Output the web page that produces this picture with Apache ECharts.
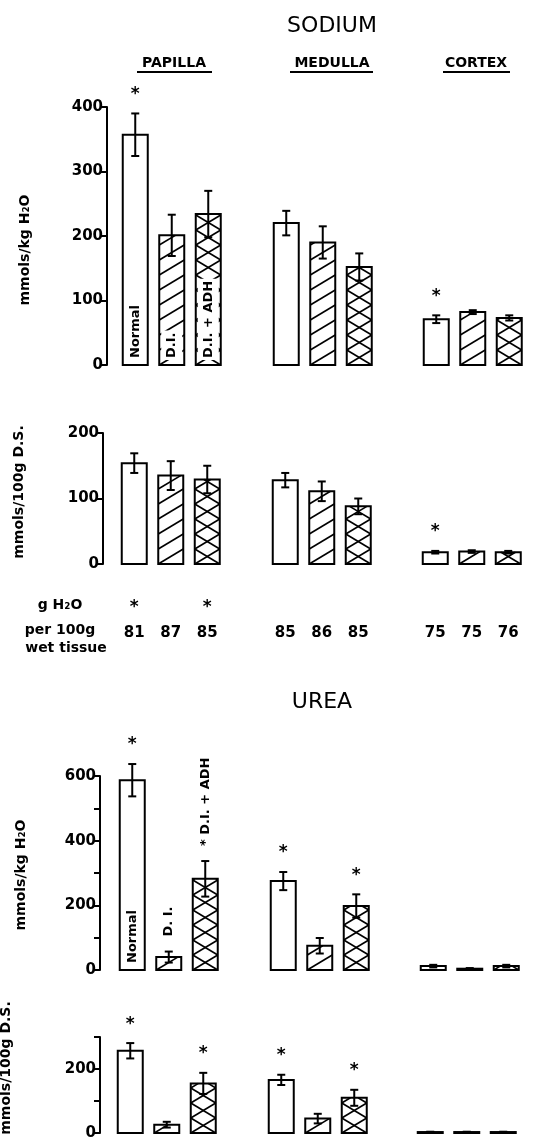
<!DOCTYPE html>
<html>
<head>
<meta charset="utf-8">
<script src="https://cdn.jsdelivr.net/npm/echarts@6/dist/echarts.min.js"></script>
<style>
  html, body { margin: 0; padding: 0; background: #fff; }
  #chart { width: 557px; height: 1141px; }
</style>
</head>
<body>
<div id="chart"></div>
<script>
// groups and tissue regions
const groups = ['Normal', 'D.I.', 'D.I. + ADH']
const regions = ['PAPILLA', 'MEDULLA', 'CORTEX']

// sodium, mmols/kg H2O  (papilla x3, medulla x3, cortex x3)
const naWater = [357, 201, 234, 220, 190, 152, 71, 82, 73]
const naWaterErr = [33, 32, 36, 19, 25, 21, 6, 3, 4]
const naWaterSig = [1, 0, 0, 0, 0, 0, 1, 0, 0]
const naWaterTicks = ['0', '100', '200', '300', '400']
const naWaterText = ['Normal', 'D.I.', 'D.I. + ADH']
const naWaterTextPos = ['inside', 'inside', 'inside']

// sodium, mmols/100g dry solids
const naDry = [154, 135, 129, 128, 111, 88, 18, 19, 18]
const naDryErr = [15, 22, 21, 11, 15, 12, 2, 2, 2]
const naDrySig = [0, 0, 0, 0, 0, 0, 1, 0, 0]
const naDryTicks = ['0', '100', '200']

// g H2O per 100g wet tissue
const waterContent = [81, 87, 85, 85, 86, 85, 75, 75, 76]
const waterSig = [1, 0, 1, 0, 0, 0, 0, 0, 0]

// urea, mmols/kg H2O
const ureaWater = [587, 40, 282, 275, 75, 198, 12, 4, 12]
const ureaWaterErr = [50, 17, 55, 28, 24, 36, 4, 2, 4]
const ureaWaterSig = [1, 0, 0, 1, 0, 1, 0, 0, 0]
const ureaWaterTicks = ['0', '', '200', '', '400', '', '600']
const ureaWaterText = ['Normal', 'D. I.', '* D.I. + ADH']
const ureaWaterTextPos = ['inside', 'above', 'above']

// urea, mmols/100g dry solids
const ureaDry = [257, 26, 155, 166, 45, 110, 3, 3, 3]
const ureaDryErr = [24, 9, 33, 16, 15, 25, 1, 1, 1]
const ureaDrySig = [1, 0, 1, 1, 0, 1, 0, 0, 0]
const ureaDryTicks = ['0', '', '200', '']

const FONT = '"DejaVu Sans", sans-serif'
const FONT_NAME = 'DejaVu Sans'
const BAR_W = 25
const SLOT_W = 109.5

// panel layout
const panels = [
  { values: naWater, err: naWaterErr, sig: naWaterSig, ticks: naWaterTicks, max: 400, interval: 100,
    top: 107, bottom: 365, lefts: [117, 268, 418], axisOffset: 10, text: naWaterText, textPos: naWaterTextPos },
  { values: naDry, err: naDryErr, sig: naDrySig, ticks: naDryTicks, max: 200, interval: 100,
    top: 433, bottom: 564, lefts: [116, 267, 417], axisOffset: 13, water: true },
  { values: ureaWater, err: ureaWaterErr, sig: ureaWaterSig, ticks: ureaWaterTicks, max: 600, interval: 100,
    top: 776, bottom: 970, lefts: [114, 265, 415], axisOffset: 14, text: ureaWaterText, textPos: ureaWaterTextPos },
  { values: ureaDry, err: ureaDryErr, sig: ureaDrySig, ticks: ureaDryTicks, max: 300, interval: 100,
    top: 1037, bottom: 1133, lefts: [112, 263, 412], axisOffset: 12 }
]

// hatch segments clipped to a bar rect; dir 1 rises to the right, -1 to the left
function hatch (x0, x1, y0, y1, k, h, dir) {
  const w = x1 - x0
  const out = []
  const nMin = -Math.ceil((w * k) / h) - 1
  const nMax = Math.ceil((y1 - y0) / h) + 1
  for (let n = nMin; n <= nMax; n++) {
    const ta = Math.max(0, (-n * h) / k)
    const tb = Math.min(w, (y1 - y0 - n * h) / k)
    if (tb - ta < 0.5) continue
    const xa = dir > 0 ? x0 + ta : x1 - ta
    const xb = dir > 0 ? x0 + tb : x1 - tb
    out.push({
      type: 'line',
      shape: { x1: xa, y1: y1 - n * h - k * ta, x2: xb, y2: y1 - n * h - k * tb },
      style: { stroke: '#000', lineWidth: 1.6 }
    })
  }
  return out
}

function makeRender (panel, region) {
  return function (params, api) {
    const i = api.value(0)
    const v = api.value(1)
    const e = api.value(2)
    const sig = api.value(3)
    const base = api.coord([i, 0])
    const top = api.coord([i, v])
    const cx = base[0]
    const x0 = cx - BAR_W / 2
    const x1 = cx + BAR_W / 2
    const y0 = top[1]
    const y1 = base[1]
    const children = [{
      type: 'rect',
      shape: { x: x0, y: y0, width: BAR_W, height: y1 - y0 },
      style: { fill: '#fff', stroke: null }
    }]
    const h = 15
    const k = h / BAR_W
    if (i === 1) {
      children.push(...hatch(x0, x1, y0, y1, k, h, 1))
    } else if (i === 2) {
      children.push(...hatch(x0, x1, y0, y1, k, h, 1))
      children.push(...hatch(x0, x1, y0, y1, k, h, -1))
    }
    // inside label (white box over the hatching)
    const label = panel.text && region === 0 ? panel.text[i] : null
    const pos = label ? panel.textPos[i] : null
    if (label && pos === 'inside') {
      children.push({
        type: 'text',
        x: cx,
        y: y1 - 5,
        rotation: Math.PI / 2,
        style: {
          text: label, font: 'bold 13px ' + FONT, fill: '#000',
          align: 'left', verticalAlign: 'middle', textAlign: 'left', textVerticalAlign: 'middle',
          backgroundColor: '#fff', padding: [4, 2, 4, 2]
        }
      })
    }
    children.push({
      type: 'rect',
      shape: { x: x0, y: y0, width: BAR_W, height: y1 - y0 },
      style: { fill: null, stroke: '#000', lineWidth: 2 }
    })
    // error bar
    const eTop = api.coord([i, v + e])[1]
    const eBot = api.coord([i, Math.max(0, v - e)])[1]
    const errStyle = { stroke: '#000', lineWidth: 2 }
    children.push(
      { type: 'line', shape: { x1: cx, y1: eTop, x2: cx, y2: eBot }, style: errStyle },
      { type: 'line', shape: { x1: cx - 4, y1: eTop, x2: cx + 4, y2: eTop }, style: errStyle },
      { type: 'line', shape: { x1: cx - 4, y1: eBot, x2: cx + 4, y2: eBot }, style: errStyle }
    )
    if (sig) {
      children.push({
        type: 'text',
        x: cx,
        y: eTop - 19,
        style: {
          text: '*', font: 'bold 17px ' + FONT, fill: '#000',
          align: 'center', verticalAlign: 'middle', textAlign: 'center', textVerticalAlign: 'middle'
        }
      })
    }
    if (label && pos === 'above') {
      children.push({
        type: 'text',
        x: cx,
        y: eTop - 15,
        rotation: Math.PI / 2,
        style: {
          text: label, font: 'bold 13px ' + FONT, fill: '#000',
          align: 'left', verticalAlign: 'middle', textAlign: 'left', textVerticalAlign: 'middle'
        }
      })
    }
    return { type: 'group', children }
  }
}

const grid = []
const xAxis = []
const yAxis = []
const series = []

panels.forEach((p, pi) => {
  regions.forEach((r, ri) => {
    const gi = grid.length
    grid.push({ left: p.lefts[ri], top: p.top, width: SLOT_W, height: p.bottom - p.top })
    xAxis.push({
      gridIndex: gi,
      type: 'category',
      data: groups,
      axisLine: { show: false },
      axisTick: { show: false },
      axisLabel: p.water ? {
        show: true,
        margin: 29,
        interval: 0,
        formatter: (val, i) => {
          const j = ri * 3 + i
          return '{s|' + (waterSig[j] ? '*' : ' ') + '}\n{n|' + waterContent[j] + '}'
        },
        rich: {
          s: { fontFamily: FONT_NAME, fontWeight: 'bold', fontSize: 17, color: '#000', lineHeight: 30 },
          n: { fontFamily: FONT_NAME, fontWeight: 'bold', fontSize: 15, color: '#000', lineHeight: 20 }
        }
      } : { show: false }
    })
    yAxis.push({
      gridIndex: gi,
      type: 'value',
      min: 0,
      max: p.max,
      interval: p.interval,
      show: ri === 0,
      offset: p.axisOffset,
      axisLine: { show: true, lineStyle: { color: '#000', width: 2 } },
      axisTick: { show: true, length: 6, lineStyle: { color: '#000', width: 2 } },
      axisLabel: {
        color: '#000',
        fontFamily: FONT_NAME,
        fontWeight: 'bold',
        fontSize: 15,
        margin: 4,
        formatter: (v) => p.ticks[Math.round(v / p.interval)] || ''
      },
      splitLine: { show: false }
    })
    const data = [0, 1, 2].map(i => {
      const j = ri * 3 + i
      return [i, p.values[j], p.err[j], p.sig[j]]
    })
    series.push({
      type: 'custom',
      xAxisIndex: gi,
      yAxisIndex: gi,
      renderItem: makeRender(p, ri),
      data,
      silent: true
    })
  })
})

const txt = (text, x, y, font, extra) => Object.assign({
  type: 'text',
  x, y,
  style: {
    text, font, fill: '#000',
    align: 'center', verticalAlign: 'middle', textAlign: 'center', textVerticalAlign: 'middle'
  }
}, extra || {})

const rot = { rotation: Math.PI / 2 }

const graphic = [
  txt('SODIUM', 332, 26, '22px ' + FONT),
  txt('PAPILLA', 174, 63, 'bold 14px ' + FONT),
  txt('MEDULLA', 332, 63, 'bold 14px ' + FONT),
  txt('CORTEX', 476, 63, 'bold 14px ' + FONT),
  { type: 'line', shape: { x1: 137, y1: 72, x2: 212, y2: 72 }, style: { stroke: '#000', lineWidth: 2 } },
  { type: 'line', shape: { x1: 290, y1: 72, x2: 373, y2: 72 }, style: { stroke: '#000', lineWidth: 2 } },
  { type: 'line', shape: { x1: 443, y1: 72, x2: 510, y2: 72 }, style: { stroke: '#000', lineWidth: 2 } },
  txt('mmols/kg H₂O', 25, 250, 'bold 14px ' + FONT, rot),
  txt('mmols/100g D.S.', 19, 492, 'bold 14px ' + FONT, rot),
  txt('g H₂O', 60, 605, 'bold 14px ' + FONT),
  txt('per 100g', 60, 630, 'bold 14px ' + FONT),
  txt('wet tissue', 66, 648, 'bold 14px ' + FONT),
  txt('UREA', 322, 702, '22px ' + FONT),
  txt('mmols/kg H₂O', 21, 875, 'bold 14px ' + FONT, rot),
  txt('mmols/100g D.S.', 6, 1068, 'bold 14px ' + FONT, rot)
]

const chart = echarts.init(document.getElementById('chart'))
chart.setOption({
  animation: false,
  backgroundColor: '#fff',
  grid,
  xAxis,
  yAxis,
  series,
  graphic
})
</script>
</body>
</html>
